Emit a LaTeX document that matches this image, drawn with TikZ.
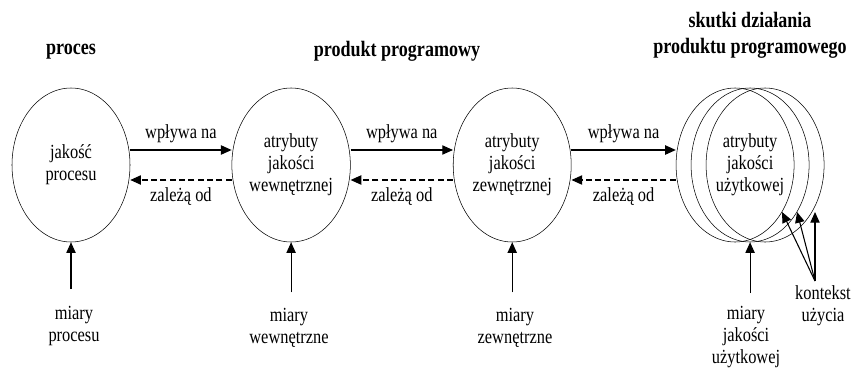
\documentclass[tikz,border=0pt]{standalone}
\usepackage{fontspec}
\setmainfont{Liberation Serif}[FakeStretch=0.82]
\usetikzlibrary{arrows.meta,positioning,shapes.geometric}

\begin{document}
\begin{tikzpicture}[x=0.75pt,y=-0.75pt,
  oval/.style={draw, ellipse, minimum width=88.5pt, minimum height=115.5pt, inner sep=0pt, align=center, font=\fontsize{15}{16.5}\selectfont},
  lbl/.style={align=center, font=\fontsize{15}{16.5}\selectfont, inner sep=1pt},
  head/.style={align=center, font=\fontsize{16.5}{19.5}\selectfont\bfseries},
  arr/.style={-{Triangle[length=8pt,width=7pt]}, line width=0.8pt},
  back/.style={arr, dash pattern=on 4.5pt off 2.5pt}
]
\useasboundingbox (0,0) rectangle (856,368);

% naglowki
\node[head] (hproc) at (71,52) {proces};
\node[head] (hprod) at (397,51) {produkt programowy};
\node[head] (hskut) at (750,35) {skutki działania\\ produktu programowego};

% elipsy
\node[oval] (e1) at (71,165) {jakość\\ procesu};
\node[oval, right=76pt of e1] (e2) {atrybuty\\ jakości\\ wewnętrznej};
\node[oval, right=76.75pt of e2] (e3) {atrybuty\\ jakości\\ zewnętrznej};
\node[oval, right=78.25pt of e3] (e4a) {};
\node[oval] (e4b) at ([xshift=11.25pt]e4a.center) {atrybuty\\ jakości\\ użytkowej};
\node[oval] (e4c) at ([xshift=11.25pt]e4b.center) {};

% wplywa na / zaleza od
\draw[arr] ([yshift=11.25pt]e1.east) -- node[lbl, above=4pt] (w1) {wpływa na} ([yshift=11.25pt]e2.west);
\draw[back] ([yshift=-11.25pt]e2.west) -- node[lbl, below=4.5pt] (z1) {zależą od} ([yshift=-11.25pt]e1.east);
\draw[arr] ([yshift=11.25pt]e2.east) -- node[lbl, above=4pt] (w2) {wpływa na} ([yshift=11.25pt]e3.west);
\draw[back] ([yshift=-11.25pt]e3.west) -- node[lbl, below=4.5pt] (z2) {zależą od} ([yshift=-11.25pt]e2.east);
\draw[arr] ([yshift=11.25pt]e3.east) -- node[lbl, above=4pt] (w3) {wpływa na} ([yshift=11.25pt]e4a.west);
\draw[back] ([yshift=-11.25pt]e4a.west) -- node[lbl, below=4.5pt] (z3) {zależą od} ([yshift=-11.25pt]e3.east);

% miary
\node[lbl, anchor=north] (m1) at (74,305) {miary\\ procesu};
\node[lbl, anchor=north] (m2) at (289,307) {miary\\ wewnętrzne};
\node[lbl, anchor=north] (m3) at (515,307) {miary\\ zewnętrzne};
\node[lbl, anchor=north] (m4) at (746,305) {miary\\ jakości\\ użytkowej};
\draw[arr, shorten <=12pt] (e1.south |- m1.north) -- (e1.south);
\draw[arr, shorten <=11pt] (e2.south |- m2.north) -- (e2.south);
\draw[arr, shorten <=11pt] (e3.south |- m3.north) -- (e3.south);
\draw[arr, shorten <=9pt] (e4b.south |- m4.north) -- (e4b.south);

% kontekst uzycia
\coordinate (ctxsrc) at (815,281);
\node[lbl, anchor=north] (ctx) at (823,284) {kontekst\\ użycia};
\draw[arr] (ctxsrc) -- (e4a.-45);
\draw[arr] (ctxsrc) -- (e4b.-45);
\draw[arr] (ctxsrc) -- (ctxsrc |- e4c.-45);
\end{tikzpicture}
\end{document}
